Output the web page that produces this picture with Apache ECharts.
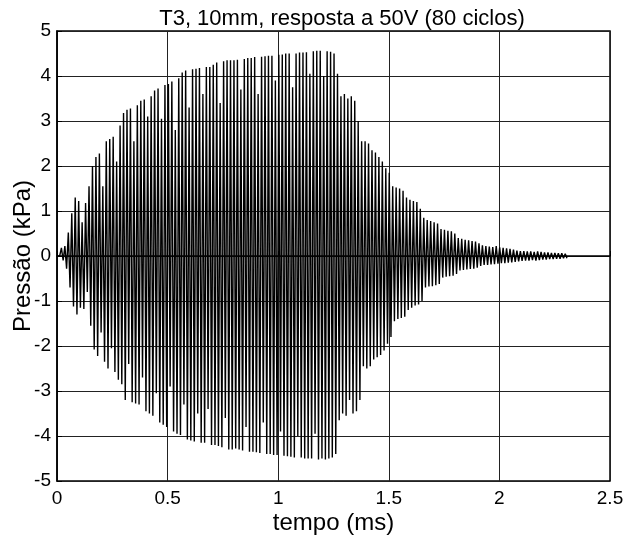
<!DOCTYPE html>
<html>
<head>
<meta charset="utf-8">
<script src="https://cdn.jsdelivr.net/npm/echarts@6/dist/echarts.min.js"></script>
<style>html,body{margin:0;padding:0;background:#fff}#c{width:631px;height:539px}</style>
</head>
<body>
<div id="c"></div>
<script>
// Data (per-cycle peak values, kPa)
const titleText = 'T3, 10mm, resposta a 50V (80 ciclos)';
const xName = 'tempo (ms)';
const yName = 'Pressão (kPa)';
const xTicks = [0, 0.5, 1, 1.5, 2, 2.5];
const yTicks = [-5, -4, -3, -2, -1, 0, 1, 2, 3, 4, 5];
const startMs = 0.02;      // first cycle time (ms)
const periodMs = 0.0156;   // oscillation period (ms)
const leadIn = [[0, 0], [0.012, 0]];
const posPeaks = [
  0.18, 0.22, 0.52, 0.95, 1.30, 1.22, 0.75, 1.18, 1.55, 2.00,
  2.20, 2.28, 1.55, 2.55, 2.60, 2.65, 2.10, 2.90, 3.18, 3.25,
  3.28, 2.55, 3.35, 3.45, 3.48, 3.10, 3.55, 3.68, 3.72, 3.05,
  3.80, 3.82, 3.88, 2.80, 3.95, 4.08, 4.12, 3.30, 4.15, 4.16,
  4.18, 3.60, 4.20, 4.20, 4.25, 4.30, 3.40, 4.33, 4.35, 4.35,
  4.35, 4.36, 3.70, 4.38, 4.40, 4.40, 4.42, 3.60, 4.43, 4.44,
  4.45, 4.45, 3.90, 4.47, 4.48, 4.50, 4.50, 3.75, 4.50, 4.52,
  4.52, 4.53, 4.05, 4.55, 4.56, 4.56, 4.00, 4.55, 4.54, 4.50,
  4.05, 3.55, 3.60, 3.50, 3.55, 3.45, 3.00, 2.55, 2.55, 2.50,
  2.35, 2.30, 2.20, 2.10, 1.95, 1.85, 1.55, 1.52, 1.50, 1.45,
  1.30, 1.25, 1.22, 1.20, 1.05, 0.85, 0.80, 0.78, 0.75, 0.72,
  0.60, 0.58, 0.56, 0.55, 0.50, 0.40, 0.38, 0.36, 0.35, 0.33,
  0.32, 0.28, 0.24, 0.22, 0.21, 0.20, 0.22, 0.19, 0.18, 0.17,
  0.16, 0.14, 0.12, 0.11, 0.11, 0.10, 0.10, 0.09, 0.10, 0.09,
  0.08, 0.08, 0.07, 0.07, 0.06, 0.06, 0.05
];
const negPeaks = [
  -0.10, -0.28, -0.70, -1.12, -1.30, -1.15, -1.18, -0.80, -1.55, -2.08,
  -2.22, -1.70, -2.35, -2.50, -2.05, -2.58, -2.75, -2.85, -3.20, -2.40,
  -3.25, -3.28, -3.30, -2.70, -3.45, -3.50, -3.55, -3.05, -3.70, -3.75,
  -3.80, -2.90, -3.90, -3.95, -3.98, -3.30, -4.08, -4.10, -4.12, -3.50,
  -4.15, -4.15, -3.40, -4.20, -4.20, -4.22, -4.25, -3.60, -4.30, -4.30,
  -4.28, -4.30, -4.32, -3.80, -4.35, -4.35, -4.36, -4.38, -3.70, -4.40,
  -4.40, -4.42, -4.42, -3.90, -4.44, -4.45, -4.46, -4.48, -4.00, -4.48,
  -4.50, -4.50, -4.50, -3.95, -4.52, -4.50, -4.52, -4.50, -4.48, -4.40,
  -3.65, -3.50, -3.55, -3.20, -3.50, -3.45, -3.20, -2.45, -2.50, -2.45,
  -2.30, -2.25, -2.20, -2.10, -1.95, -1.80, -1.45, -1.40, -1.38, -1.35,
  -1.20, -1.15, -1.10, -1.08, -1.00, -0.70, -0.68, -0.67, -0.65, -0.62,
  -0.48, -0.46, -0.45, -0.44, -0.40, -0.32, -0.31, -0.30, -0.29, -0.28,
  -0.26, -0.22, -0.20, -0.20, -0.19, -0.18, -0.17, -0.16, -0.16, -0.15,
  -0.14, -0.13, -0.12, -0.11, -0.10, -0.10, -0.09, -0.10, -0.09, -0.08,
  -0.08, -0.07, -0.07, -0.06, -0.06, -0.05, -0.05
];

const series = leadIn.slice();
for (let k = 0; k < posPeaks.length; k++) {
  const t = startMs + k * periodMs;
  series.push([t, posPeaks[k]]);
  series.push([t + periodMs / 2, negPeaks[k]]);
}

const FONT = 'Liberation Sans, Arial, Helvetica, sans-serif';
const chart = echarts.init(document.getElementById('c'), null, {renderer: 'canvas'});
chart.setOption({
  animation: false,
  backgroundColor: '#fff',
  title: {
    text: titleText, left: 337, top: 3, textAlign: 'center',
    textStyle: {fontFamily: FONT, fontSize: 22, fontWeight: 'normal', color: '#000'}
  },
  grid: {left: 57, right: 21, top: 31, bottom: 58, show: true, borderColor: '#000', borderWidth: 1.5,
         backgroundColor: 'transparent', containLabel: false, outerBoundsMode: 'none'},
  xAxis: {
    type: 'value', min: xTicks[0], max: xTicks[xTicks.length - 1], interval: 0.5,
    name: xName, nameLocation: 'middle', nameGap: 30, nameMoveOverlap: false,
    nameTextStyle: {fontFamily: FONT, fontSize: 24, color: '#000'},
    axisLine: {show: true, lineStyle: {color: '#000', width: 1.5}},
    axisTick: {show: true, inside: true, length: 5, lineStyle: {color: '#000'}},
    axisLabel: {fontFamily: FONT, fontSize: 19, color: '#000', margin: 8},
    splitLine: {show: true, lineStyle: {color: '#222', width: 1}}
  },
  yAxis: {
    type: 'value', min: yTicks[0], max: yTicks[yTicks.length - 1], interval: 1,
    name: yName, nameLocation: 'middle', nameGap: 22, nameRotate: 90, nameMoveOverlap: false,
    nameTextStyle: {fontFamily: FONT, fontSize: 24, color: '#000'},
    axisLine: {show: true, lineStyle: {color: '#000', width: 1.5}},
    axisTick: {show: true, inside: true, length: 5, lineStyle: {color: '#000'}},
    axisLabel: {fontFamily: FONT, fontSize: 19, color: '#000', margin: 6},
    splitLine: {show: true, lineStyle: {color: '#222', width: 1}}
  },
  series: [{
    type: 'line', data: series, showSymbol: false, symbol: 'none',
    lineStyle: {color: '#000', width: 1.4}, z: 3
  }]
});
</script>
</body>
</html>
